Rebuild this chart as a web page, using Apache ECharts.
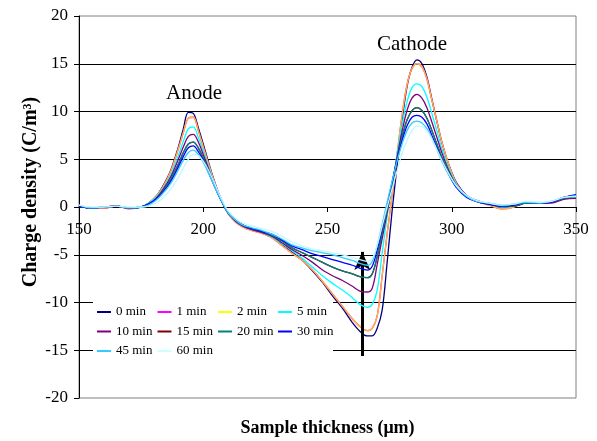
<!DOCTYPE html>
<html><head><meta charset="utf-8">
<script src="https://cdn.jsdelivr.net/npm/echarts@6/dist/echarts.min.js"></script>
<style>html,body{margin:0;padding:0;background:#fff}#c{width:597px;height:441px}</style>
</head><body><div id="c"></div>
<script>
const X = [150,155,160,165,170,175,178,181,184,187,190,192,194,196,198,200,202,204,206,208,210,213,216,220,224,228,232,236,240,244,248,252,256,260,263,266,268,270,272,274,276,278,280,282,284,286,288,290,292,294,296,299,302,306,310,315,320,325,330,335,340,345,350];
const names = ['0 min','1 min','2 min','5 min','10 min','15 min','20 min','30 min','45 min','60 min'];
const min0 = [0.1,-0.1,-0.1,0.1,-0.1,0.0,0.4,1.1,2.3,3.9,6.3,8.2,9.9,9.8,8.3,6.6,4.8,3.1,1.6,0.4,-0.6,-1.5,-2.0,-2.4,-2.7,-3.2,-4.0,-4.8,-5.6,-6.7,-7.9,-9.3,-10.6,-12.1,-13.0,-13.5,-13.5,-12.7,-10.8,-5.8,-0.4,4.3,9.0,12.6,14.6,15.4,15.0,13.6,11.3,9.0,6.8,4.3,2.5,1.2,0.7,0.3,0.0,0.1,0.5,0.4,0.5,1.0,1.2];
const min1 = [0.1,-0.1,-0.1,0.1,-0.2,0.0,0.4,1.1,2.2,3.8,6.1,7.8,9.3,9.4,8.0,6.3,4.6,3.0,1.5,0.3,-0.7,-1.6,-2.1,-2.5,-2.8,-3.3,-4.1,-4.9,-5.6,-6.6,-7.8,-9.1,-10.4,-11.7,-12.5,-12.95,-12.7,-11.4,-7.2,-2.8,1.2,5.5,9.6,12.8,14.5,15.0,14.7,13.4,11.2,9.0,6.8,4.3,2.4,1.1,0.6,0.2,-0.2,0.0,0.5,0.4,0.5,0.9,1.1];
const min2 = [0.1,-0.1,-0.1,0.1,-0.2,0.0,0.4,1.1,2.2,3.8,6.1,7.8,9.3,9.4,8.0,6.3,4.6,3.0,1.5,0.3,-0.7,-1.6,-2.1,-2.5,-2.8,-3.3,-4.1,-4.9,-5.6,-6.6,-7.8,-9.1,-10.4,-11.7,-12.5,-12.95,-12.7,-11.4,-7.2,-2.8,1.2,5.5,9.6,12.8,14.5,15.0,14.7,13.4,11.2,9.0,6.8,4.3,2.4,1.1,0.6,0.2,-0.2,0.0,0.5,0.4,0.5,0.9,1.1];
const min5 = [0.1,-0.1,0.0,0.1,-0.1,0.0,0.4,1.0,2.0,3.4,5.4,6.9,8.2,8.4,7.3,5.8,4.3,2.8,1.5,0.3,-0.6,-1.5,-2.0,-2.4,-2.7,-3.2,-3.9,-4.6,-5.4,-6.3,-7.2,-8.0,-8.7,-9.5,-10.2,-10.5,-10.2,-8.7,-4.8,-1.0,2.2,5.5,8.6,11.0,12.5,12.9,12.6,11.5,9.8,8.0,6.1,3.9,2.3,1.1,0.6,0.3,0.0,0.1,0.5,0.4,0.5,0.9,1.0];
const min10 = [0.1,-0.1,0.0,0.1,-0.1,0.0,0.3,0.9,1.9,3.2,5.0,6.3,7.4,7.6,6.8,5.5,4.1,2.7,1.4,0.3,-0.6,-1.5,-2.0,-2.4,-2.7,-3.1,-3.8,-4.5,-5.1,-5.8,-6.6,-7.2,-7.7,-8.3,-8.8,-8.9,-8.5,-6.0,-3.3,-0.6,2.3,5.2,7.9,10.1,11.4,11.8,11.4,10.4,8.9,7.3,5.7,3.7,2.2,1.1,0.6,0.3,0.1,0.1,0.4,0.4,0.4,0.8,0.9];
const min15 = [0.1,-0.1,0.0,0.1,-0.1,0.0,0.3,0.8,1.7,2.9,4.5,5.7,6.6,6.8,6.2,5.1,3.8,2.6,1.4,0.3,-0.6,-1.4,-1.9,-2.3,-2.6,-3.0,-3.6,-4.3,-4.8,-5.3,-5.8,-6.3,-6.7,-7.0,-7.3,-7.4,-7.0,-5.2,-2.7,-0.2,2.4,5.0,7.3,9.1,10.1,10.4,10.1,9.3,8.0,6.6,5.2,3.5,2.1,1.1,0.6,0.3,0.1,0.1,0.4,0.4,0.5,0.9,1.0];
const min20 = [0.1,-0.1,0.0,0.1,-0.1,0.0,0.3,0.8,1.7,2.9,4.5,5.7,6.6,6.8,6.2,5.1,3.8,2.6,1.4,0.3,-0.6,-1.4,-1.9,-2.3,-2.6,-3.0,-3.6,-4.3,-4.8,-5.3,-5.8,-6.3,-6.7,-7.0,-7.3,-7.4,-7.0,-5.2,-2.7,-0.2,2.4,5.0,7.3,9.1,10.1,10.4,10.1,9.3,8.0,6.6,5.2,3.5,2.1,1.1,0.6,0.3,0.1,0.1,0.4,0.4,0.5,0.9,1.0];
const min30 = [0.1,-0.1,0.0,0.1,-0.1,0.0,0.3,0.8,1.6,2.7,4.2,5.3,6.2,6.4,5.8,4.9,3.7,2.5,1.3,0.3,-0.6,-1.4,-1.9,-2.3,-2.6,-2.9,-3.5,-4.1,-4.5,-4.9,-5.2,-5.5,-5.8,-6.1,-6.4,-6.6,-6.2,-4.5,-2.2,0.2,2.6,4.9,6.9,8.5,9.4,9.6,9.4,8.7,7.5,6.2,4.9,3.3,2.0,1.0,0.6,0.3,0.1,0.2,0.5,0.4,0.5,1.0,1.3];
const min45 = [0.2,-0.1,0.0,0.1,-0.1,0.0,0.2,0.7,1.5,2.5,3.9,4.9,5.7,5.95,5.5,4.7,3.6,2.5,1.3,0.3,-0.6,-1.4,-1.9,-2.2,-2.5,-2.9,-3.4,-4.0,-4.3,-4.6,-4.8,-5.0,-5.3,-5.6,-5.9,-6.1,-5.7,-4.0,-1.8,0.5,2.7,4.8,6.6,8.0,8.8,9.0,8.8,8.2,7.2,6.0,4.8,3.3,2.1,1.1,0.6,0.4,0.2,0.3,0.5,0.4,0.6,1.0,1.2];
const min60 = [0.2,0.0,0.0,0.1,0.0,0.0,0.1,0.4,1.0,1.9,3.1,4.1,5.0,5.5,5.4,4.8,3.9,2.8,1.6,0.5,-0.4,-1.2,-1.7,-2.0,-2.3,-2.6,-3.1,-3.7,-4.1,-4.4,-4.6,-4.8,-5.0,-5.3,-5.5,-5.7,-5.4,-4.0,-2.0,0.0,1.9,3.8,5.6,7.0,8.0,8.5,8.4,8.0,7.1,6.0,4.9,3.4,2.2,1.2,0.7,0.4,0.2,0.3,0.6,0.5,0.6,1.0,1.1];
const values = [min0,min1,min2,min5,min10,min15,min20,min30,min45,min60];
const colors = ['#000080','#FF00FF','#FFB82E','#00FFFF','#800080','#800000','#008080','#0000FF','#33CCFF','#C4F6FF'];
const legendColors = ['#000080','#FF00FF','#FFFF00','#00FFFF','#800080','#800000','#008080','#0000FF','#33CCFF','#CCFFFF'];
const xTicks = {min:150, max:350, step:50};
const yTicks = {min:-20, max:20, step:5};
const arrowLine = [[264,-15.6],[264,-4.7]];
const labels = [{name:'Anode', coord:[196.3,11.9]},{name:'Cathode', coord:[284,17.0]}];

const FONT = 'Liberation Serif';
const chart = echarts.init(document.getElementById('c'), null, {renderer:'canvas'});
const series = names.map((n,i)=>({
  name:n, type:'line', smooth:0.35, symbol:'none', showSymbol:false, z: 2+i,
  lineStyle:{width:1.3, color:colors[i]}, itemStyle:{color:colors[i]},
  data: X.map((x,j)=>[x, values[i][j]])
}));
series.push({
  type:'line', data:[], symbol:'none', z:20,
  markLine:{silent:true, symbol:['none','arrow'], symbolSize:[12,18],
    lineStyle:{color:'#000', width:3, type:'solid'}, label:{show:false},
    data:[[{coord:arrowLine[0]},{coord:arrowLine[1]}]]},
  markPoint:{silent:true, symbol:'circle', symbolSize:0,
    label:{show:true, position:'inside', formatter:'{b}', color:'#000', fontFamily:FONT, fontSize:21},
    data: labels.map(l=>({name:l.name, coord:l.coord}))}
});
const legendCols = [['0 min','10 min','45 min'],['1 min','15 min','60 min'],['2 min','20 min'],['5 min','30 min']];
const legendLeft = [97,157.5,218,278];
const legends = legendCols.map((col,k)=>({
  orient:'vertical', left:legendLeft[k], top:305, padding:0, itemWidth:14, itemHeight:2, itemGap:5.5,
  icon:'rect', selectedMode:false, textStyle:{fontFamily:FONT, fontSize:13, lineHeight:14, color:'#000'},
  data: col.map(n=>{const i=names.indexOf(n); return {name:n, icon:'rect', itemStyle:{color:legendColors[i], borderWidth:0}};})
}));
chart.setOption({
  animation:false,
  backgroundColor:'#fff',
  grid:{left:79, right:21, top:16, bottom:43, show:true, borderColor:'#808080', borderWidth:1, outerBoundsMode:'none'},
  xAxis:{type:'value', min:xTicks.min, max:xTicks.max, interval:xTicks.step, position:'bottom', offset:0,
    axisLine:{onZero:false, lineStyle:{color:'#000', width:1}},
    axisTick:{show:true, inside:false, length:5, lineStyle:{color:'#000'}},
    axisLabel:{margin:14, color:'#000', fontFamily:FONT, fontSize:17},
    splitLine:{show:false}},
  yAxis:{type:'value', min:yTicks.min, max:yTicks.max, interval:yTicks.step,
    axisLine:{show:true, onZero:false, lineStyle:{color:'#000', width:1}},
    axisTick:{show:true, length:5, lineStyle:{color:'#000'}},
    axisLabel:{margin:11, color:'#000', fontFamily:FONT, fontSize:17},
    splitLine:{show:true, showMinLine:false, showMaxLine:false, lineStyle:{color:'#000', width:1}}},
  legend: legends,
  graphic:[
    {type:'rect', z:1, shape:{x:93, y:292, width:240, height:74}, style:{fill:'#fff'}, silent:true},
    {type:'text', z:10, x:30.5, y:192, rotation:Math.PI/2, style:{text:'Charge density (C/m³)', fontFamily:FONT, fontSize:20, fontWeight:'bold', fill:'#000', align:'center', verticalAlign:'middle'}},
    {type:'text', z:10, x:327.5, y:428, style:{text:'Sample thickness (μm)', fontFamily:FONT, fontSize:18, fontWeight:'bold', fill:'#000', align:'center', verticalAlign:'middle'}}
  ],
  series: series
});
// place the x axis line at y = 0, using the library's own y scale
const pZero = chart.convertToPixel({yAxisIndex:0}, 0);
const pMin = chart.convertToPixel({yAxisIndex:0}, yTicks.min);
chart.setOption({xAxis:{offset: pZero - pMin}});
</script></body></html>
